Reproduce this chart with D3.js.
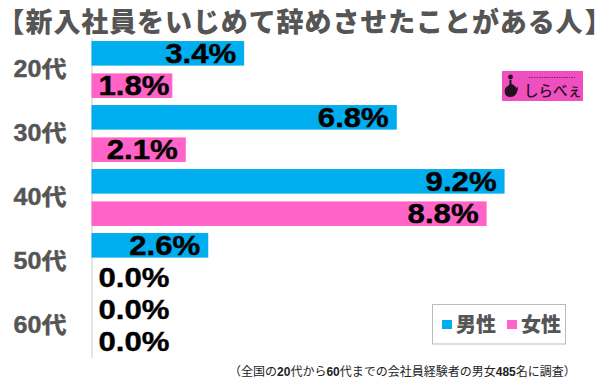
<!DOCTYPE html>
<html>
<head>
<meta charset="utf-8">
<script src="https://cdn.jsdelivr.net/npm/d3@7"></script>
<style>
  body { margin: 0; background: #fff; }
  svg { display: block; }
  .trim { font-feature-settings: "palt"; }
</style>
</head>
<body>
<div id="chart"></div>
<script>
// data
const titleText = "【新入社員をいじめて辞めさせたことがある人】";
const ages = ["20代", "30代", "40代", "50代", "60代"];
const seriesNames = ["男性", "女性"];
const maleValues = [3.4, 6.8, 9.2, 2.6, 0.0];
const femaleValues = [1.8, 2.1, 8.8, 0.0, 0.0];
const seriesColors = ["#00adef", "#ff63c8"];

const chartWidth = 600, chartHeight = 380;
const margin = { top: 37.5, right: 30, bottom: 20, left: 91.5 };
const unitsPerPx = 44.9;
const sansJP = "'Noto Sans CJK JP', sans-serif";
const latinJP = "'Liberation Sans', 'Noto Sans CJK JP', sans-serif";

const svg = d3.select("#chart").append("svg")
    .attr("width", chartWidth)
    .attr("height", chartHeight);

// title, brackets trimmed so the ink sits where the reference has it
const title = svg.append("text")
    .attr("x", 10).attr("y", 32)
    .attr("font-family", sansJP).attr("font-weight", 900)
    .attr("font-size", 27).attr("letter-spacing", 0.9).attr("fill", "#555");
title.append("tspan").attr("class", "trim").attr("letter-spacing", 2).text(titleText.slice(0, 1));
title.append("tspan").text(titleText.slice(1, -1));
title.append("tspan").attr("class", "trim").attr("dx", 2).text(titleText.slice(-1));

const g = svg.append("g").attr("transform", `translate(${margin.left},${margin.top})`);
const height = chartHeight - margin.top - margin.bottom - 2.5;
const width = chartWidth - margin.left - margin.right;

const y0 = d3.scaleBand().domain(ages).range([0, height]);
const y1 = d3.scaleBand().domain(seriesNames).range([0, y0.bandwidth()]).paddingInner(0.24).paddingOuter(0.11);
const x = d3.scaleLinear().domain([0, width / unitsPerPx]).range([0, width]);

// y axis
const yAxis = g.append("g").call(d3.axisLeft(y0).tickSize(0).tickPadding(25));
yAxis.select(".domain").attr("stroke", "#ccc").attr("stroke-width", 1);
yAxis.selectAll("text")
    .attr("font-family", latinJP).attr("font-weight", 700)
    .attr("font-size", 23).attr("fill", "#555")
    .attr("stroke", "#555").attr("stroke-width", 0.4)
    .attr("textLength", 53).attr("lengthAdjust", "spacingAndGlyphs");

// bars and labels
const rows = [];
ages.forEach((age, i) => {
    rows.push({ age, series: seriesNames[0], value: maleValues[i], color: seriesColors[0] });
    rows.push({ age, series: seriesNames[1], value: femaleValues[i], color: seriesColors[1] });
});

g.selectAll(".bar")
    .data(rows.filter(d => d.value > 0))
    .join("rect")
    .attr("class", "bar")
    .attr("x", x(0))
    .attr("y", d => y0(d.age) + y1(d.series))
    .attr("width", d => x(d.value))
    .attr("height", y1.bandwidth())
    .attr("fill", d => d.color);

const labelWidth = 71;
g.selectAll(".bar-value")
    .data(rows)
    .join("text")
    .attr("class", "bar-value")
    .attr("text-anchor", "start")
    .attr("x", d => Math.max(x(d.value) - labelWidth - 8, 7))
    .attr("y", d => y0(d.age) + y1(d.series) + y1.bandwidth() / 2)
    .attr("dy", "0.35em")
    .attr("font-family", "'Liberation Sans', sans-serif").attr("font-weight", 700)
    .attr("font-size", 28).attr("fill", "#000")
    .attr("stroke", "#000").attr("stroke-width", 0.4)
    .attr("textLength", labelWidth).attr("lengthAdjust", "spacingAndGlyphs")
    .text(d => d.value.toFixed(1) + "%");

// legend
const legend = svg.append("g").attr("transform", "translate(432,304)");
legend.append("rect")
    .attr("x", 0.5).attr("y", 0.5).attr("width", 133).attr("height", 39.5)
    .attr("fill", "#fff").attr("stroke", "#bbb");
seriesNames.forEach((name, i) => {
    const item = legend.append("g").attr("transform", `translate(${10 + i * 65},0)`);
    item.append("rect").attr("x", 0).attr("y", 16).attr("width", 10).attr("height", 9).attr("fill", seriesColors[i]);
    item.append("text").attr("x", 14).attr("y", 28)
        .attr("font-family", sansJP).attr("font-weight", 900)
        .attr("font-size", 20).attr("fill", "#555")
        .text(name);
});

// logo
const logo = svg.append("g").attr("transform", "translate(502,71)");
logo.append("rect").attr("width", 81).attr("height", 30).attr("fill", "#f04fc0");
logo.append("circle").attr("cx", 8.5).attr("cy", 6).attr("r", 2.4).attr("fill", "#201020");
logo.append("path").attr("d", "M7.5 9 L9.5 9 L9.5 13 C13 14 14 17 15 17 L16 15 C16 21 14 26 8 26 C3 26 2 21 3 18 C4 15 7 15 7.5 13Z").attr("fill", "#201020");
logo.append("line").attr("x1", 27).attr("x2", 73).attr("y1", 6.5).attr("y2", 6.5)
    .attr("stroke", "#201020").attr("stroke-width", 1).attr("stroke-dasharray", "1.5 1").attr("opacity", 0.6);
logo.append("text").attr("x", 22).attr("y", 25)
    .attr("font-family", sansJP).attr("font-weight", 500).attr("font-size", 14.5).attr("fill", "#201020")
    .text("しらべぇ");

// footnote
const note = svg.append("text")
    .attr("x", 229).attr("y", 375.5)
    .attr("font-family", latinJP).attr("font-size", 12).attr("fill", "#222");
[["（全国の", 400], ["20", 700], ["代から", 400], ["60", 700], ["代までの会社員経験者の男女", 400], ["485", 700], ["名に調査）", 400]]
    .forEach(([t, w]) => note.append("tspan").attr("font-weight", w).text(t));
</script>
</body>
</html>
